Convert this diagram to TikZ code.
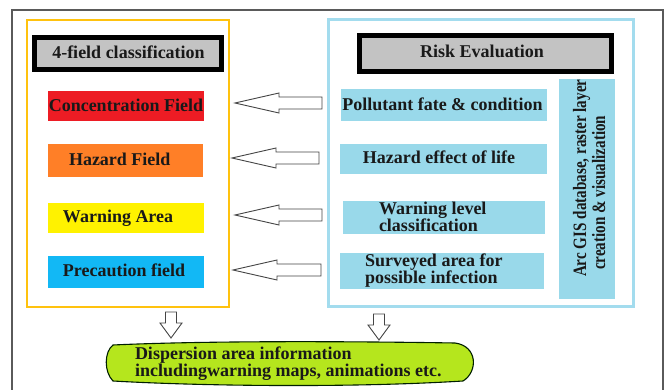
\documentclass[tikz,border=0pt]{standalone}
\usepackage{fontspec}
\setmainfont{Liberation Serif}
\usetikzlibrary{calc}
\definecolor{goldline}{HTML}{FFC20E}
\definecolor{skyline}{HTML}{A3DCEE}
\definecolor{skyfill}{HTML}{99D9EA}
\definecolor{hdrgray}{HTML}{C3C3C3}
\definecolor{cred}{HTML}{ED1C24}
\definecolor{corange}{HTML}{FF7F27}
\definecolor{cyellow}{HTML}{FFF200}
\definecolor{cblue}{HTML}{12B8F5}
\definecolor{cgreen}{HTML}{B5E61D}
\definecolor{framegray}{HTML}{5A5A5A}
\definecolor{arrowgray}{HTML}{444444}
\newcommand\blockL[4]{%
  \coordinate (#1tip) at (#2,#3);
  \coordinate (#1tail) at (#4,#3);
  \draw[blockst] (#1tip) -- ($(#1tip)+(44,-10)$) -- ($(#1tip)+(44,-6)$)
    -- ($(#1tail)+(0,-6)$) -- ($(#1tail)+(0,6)$) -- ($(#1tip)+(44,6)$)
    -- ($(#1tip)+(44,10)$) -- cycle;}
\newcommand\blockD[4]{%
  \coordinate (#1tail) at (#2,#3);
  \coordinate (#1tip) at (#2,#4);
  \draw[blockst] (#1tip) -- ($(#1tip)+(-11,-15)$) -- ($(#1tip)+(-5.5,-15)$)
    -- ($(#1tail)+(-5.5,0)$) -- ($(#1tail)+(5.5,0)$) -- ($(#1tip)+(5.5,-15)$)
    -- ($(#1tip)+(11,-15)$) -- cycle;}
\begin{document}
\begin{tikzpicture}[x=1pt,y=-1pt,
  font=\fontsize{18}{17}\selectfont\bfseries,
  every node/.style={inner sep=0pt, outer sep=0pt},
  hdrst/.style={draw=black, line width=5pt, fill=hdrgray},
  fieldst/.style={rectangle},
  skyst/.style={rectangle, fill=skyfill},
  blockst/.style={draw=arrowgray, line width=0.9pt, fill=white, line join=miter},
  txt/.style={anchor=base, text=black!90}]
\useasboundingbox (0,0) rectangle (665,390);
\fill[white] (0,0) rectangle (665,390);
% outer frame
\draw[framegray, line width=1.6pt] (12,390) -- (12,10) -- (663,10) -- (663,390);
% frames
\node[draw=goldline, line width=2.5pt, minimum width=202pt, minimum height=287pt] (leftframe) at (128,163.5) {};
\node[draw=skyline, line width=3pt, minimum width=305pt, minimum height=287pt] (rightframe) at (480.5,163.5) {};
% headers
\node[hdrst, minimum width=187pt, minimum height=32pt] (hdrL) at (128,53.5) {};
\node[txt] (hdrLt) at (128.5,59) {4-field classification};
\node[hdrst, minimum width=252pt, minimum height=36pt] (hdrR) at (485.5,53.5) {};
\node[txt] (hdrRt) at (482,58) {Risk Evaluation};
% field boxes
\node[fieldst, fill=cred, minimum width=156pt, minimum height=30pt] (conc) at (126,106) {};
\node[txt] (conct) at (126,112) {Concentration Field};
\node[fieldst, fill=corange, minimum width=155pt, minimum height=33pt] (haz) at (125.5,160.5) {};
\node[txt, anchor=base west] (hazt) at (69,166) {Hazard Field};
\node[fieldst, fill=cyellow, minimum width=156pt, minimum height=30pt] (warn) at (126,218) {};
\node[txt, anchor=base west] (warnt) at (63,223) {Warning Area};
\node[fieldst, fill=cblue, minimum width=156pt, minimum height=32pt] (prec) at (126,272) {};
\node[txt, anchor=base west] (prect) at (63,277) {Precaution field};
% risk boxes
\node[skyst, minimum width=206pt, minimum height=32pt] (poll) at (444,105) {};
\node[txt] (pollt) at (442.5,111) {Pollutant fate \& condition};
\node[skyst, minimum width=207pt, minimum height=30pt] (hazeff) at (443.5,159) {};
\node[txt] (hazefft) at (439,164) {Hazard effect of life};
\node[skyst, minimum width=202pt, minimum height=33pt] (warnlv) at (444,217.5) {};
\node[anchor=west, align=left, text=black!90] (warnlvt) at (379,216.5) {Warning level\\classification};
\node[skyst, minimum width=204pt, minimum height=36pt] (surv) at (442,271) {};
\node[anchor=west, align=left, text=black!90] (survt) at (365,271) {Surveyed area for\\possible infection};
% vertical box
\node[skyst, minimum width=56pt, minimum height=220pt] (vert) at (587,189) {};
\node[anchor=base west, rotate=90, text=black!90] (vert1) at (586,277) {\scalebox{0.84}[1.05]{Arc GIS database, raster layer}};
\node[anchor=base west, rotate=90, text=black!90] (vert2) at (605,270) {\scalebox{0.84}[1.05]{creation \& visualization}};
% left arrows
\blockL{a1}{235}{103}{322}
\blockL{a2}{232}{158}{319}
\blockL{a3}{235}{215}{322}
\blockL{a4}{233}{270}{321}
% down arrows
\blockD{d1}{171}{312}{338}
\blockD{d2}{379}{314}{340}
% green output
\draw[fill=cgreen, draw=black!70!green!40!black, line width=1.1pt]
  (113,345) .. controls (200,341) and (330,341) .. (455,343)
  .. controls (478,346) and (478,372) .. (463,381)
  .. controls (350,388) and (200,386) .. (113,381)
  .. controls (104,372) and (104,352) .. (113,345) -- cycle;
\node[anchor=west, align=left, text=black!90] (disp) at (135,364) {Dispersion area information\\includingwarning maps, animations etc.};
\end{tikzpicture}
\end{document}
